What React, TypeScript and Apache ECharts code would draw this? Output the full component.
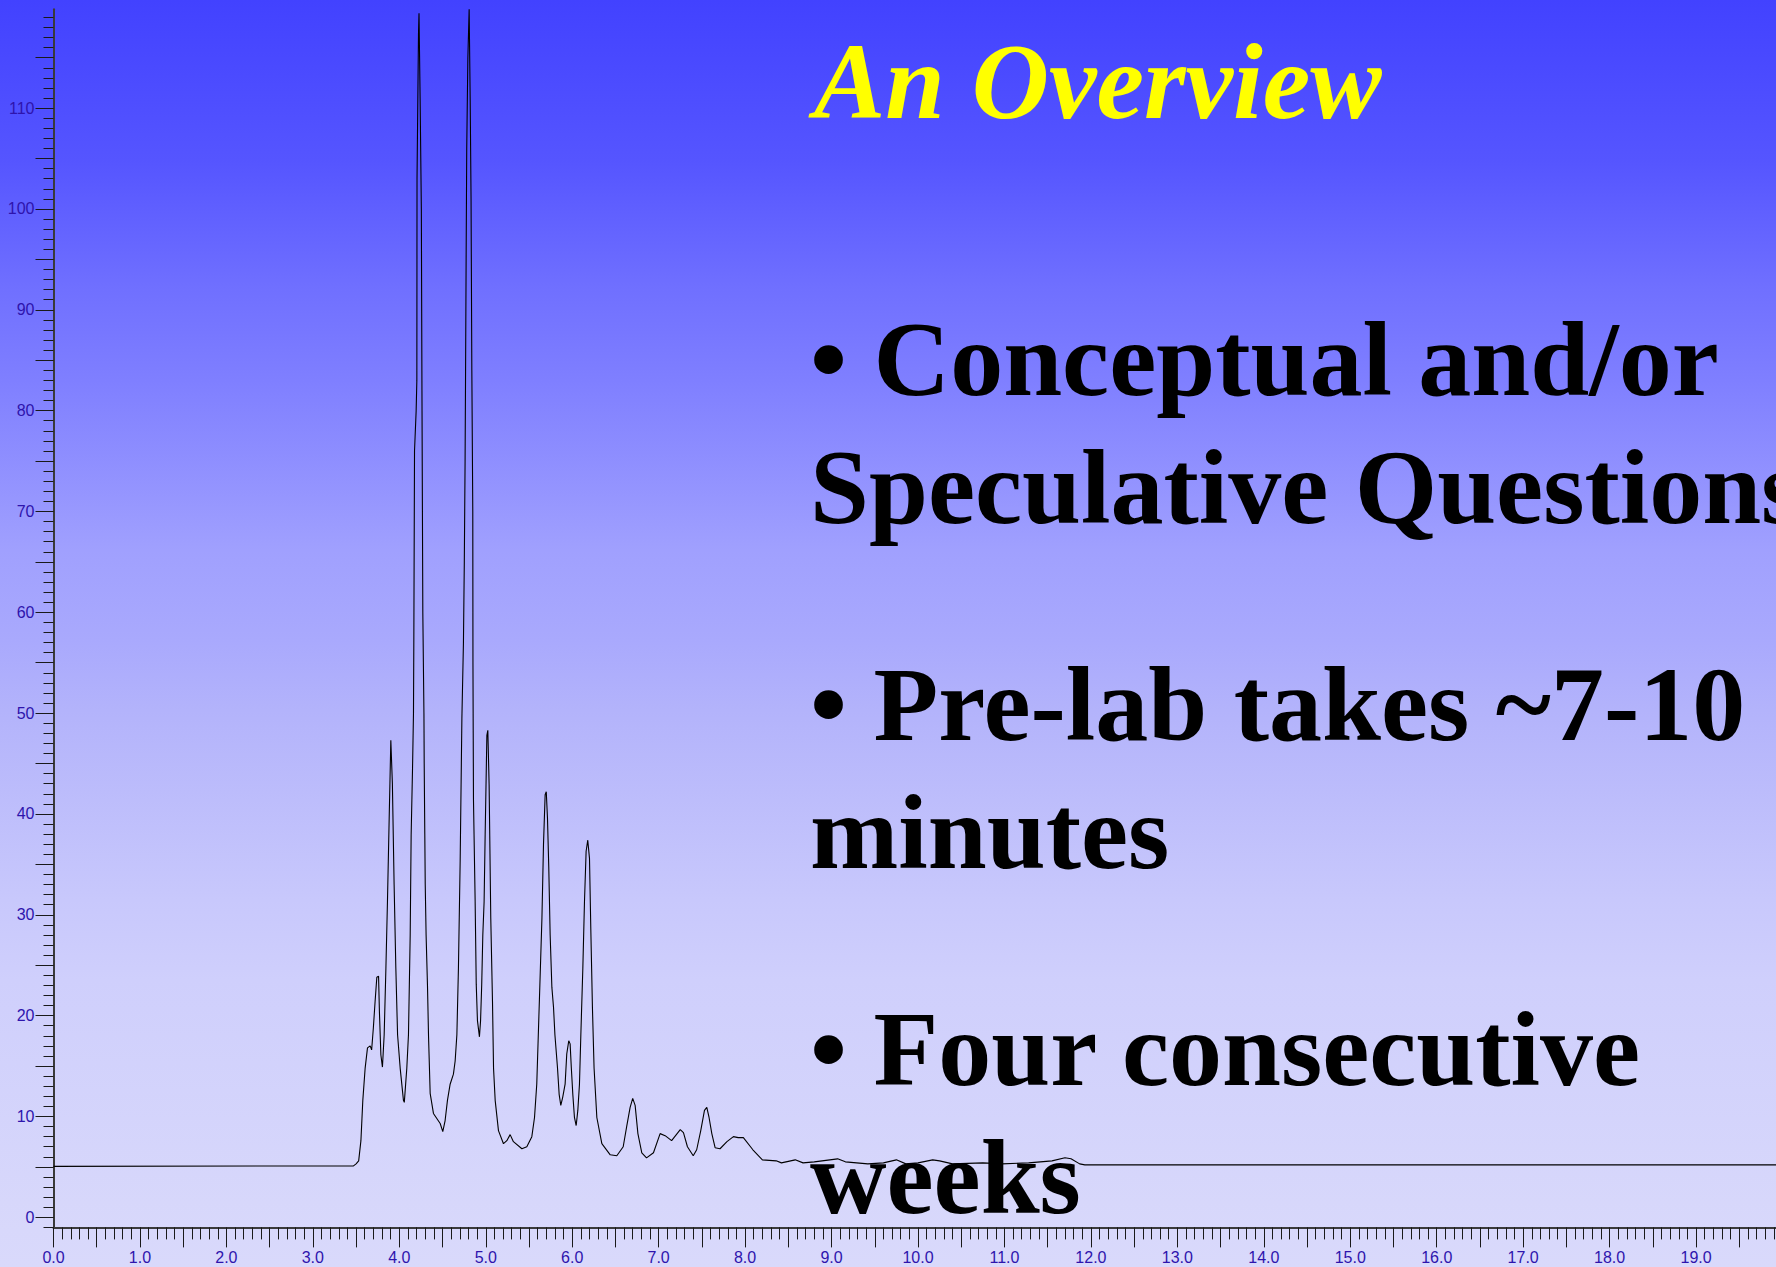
import React, { useEffect, useRef } from 'react';
import * as echarts from 'echarts';

const W = 1776;
const H = 1267;

// Retention time (min)
const TIME = [
  0, 3.47, 3.5, 3.53, 3.556, 3.578, 3.605, 3.632, 3.663, 3.68, 3.7, 3.72, 3.74, 3.76, 3.77, 3.787, 3.805,
  3.825, 3.845, 3.863, 3.883, 3.902, 3.92, 3.94, 3.96, 3.98, 4.01, 4.048, 4.058, 4.087, 4.106, 4.126, 4.137,
  4.153, 4.164, 4.168, 4.176, 4.195, 4.203, 4.205, 4.222, 4.228, 4.241, 4.255, 4.262, 4.272, 4.285, 4.288,
  4.295, 4.3, 4.31, 4.326, 4.338, 4.357, 4.395, 4.434, 4.473, 4.503, 4.53, 4.557, 4.588, 4.626, 4.646,
  4.666, 4.684, 4.704, 4.724, 4.742, 4.752, 4.761, 4.766, 4.773, 4.78, 4.793, 4.808, 4.82, 4.83, 4.839,
  4.85, 4.852, 4.855, 4.858, 4.877, 4.89, 4.904, 4.927, 4.94, 4.953, 4.966, 4.981, 4.993, 5.013, 5.024,
  5.039, 5.058, 5.078, 5.09, 5.109, 5.147, 5.205, 5.244, 5.282, 5.32, 5.418, 5.475, 5.533, 5.564, 5.59,
  5.62, 5.65, 5.668, 5.687, 5.7, 5.714, 5.729, 5.745, 5.765, 5.784, 5.8, 5.83, 5.849, 5.868, 5.89, 5.918,
  5.937, 5.96, 5.976, 5.99, 6.007, 6.026, 6.046, 6.065, 6.084, 6.1, 6.123, 6.142, 6.161, 6.18, 6.2, 6.215,
  6.234, 6.253, 6.285, 6.343, 6.44, 6.516, 6.59, 6.63, 6.67, 6.7, 6.728, 6.76, 6.805, 6.86, 6.94, 7.017,
  7.075, 7.15, 7.25, 7.287, 7.333, 7.4, 7.44, 7.487, 7.53, 7.557, 7.583, 7.615, 7.653, 7.71, 7.79, 7.865,
  7.92, 7.98, 8.09, 8.2, 8.36, 8.42, 8.58, 8.67, 8.8, 8.98, 9.07, 9.16, 9.42, 9.6, 9.75, 9.86, 10.0, 10.17,
  10.25, 10.4, 10.75, 10.97, 11.28, 11.55, 11.7, 11.77, 11.87, 11.93, 20,
];

// Detector signal
const SIGNAL = [
  5.05, 5.1, 5.3, 5.6, 7.6, 11.6, 14.8, 16.8, 17.0, 16.6, 18.8, 21.4, 23.8, 23.9, 20.4, 16.1, 14.9,
  18.1, 24.7, 31.3, 39.6, 47.3, 43, 33, 24.7, 18.1, 14.8, 11.6, 11.4, 14.8, 18.1, 28, 37.9,
  44.5, 50, 57, 76, 80, 83, 103, 117.4, 119.4, 110.8, 100, 82, 60, 50, 45,
  38, 33, 28, 23, 18, 12.3, 10.3, 9.8, 9.3, 8.5, 9.6, 11.6, 13.2, 14.2, 15.5,
  18.1, 24.7, 35.3, 49.5, 57, 65, 75, 83, 95, 106, 115, 119.8, 110.8, 101, 84,
  70, 55, 48, 41.4, 31.5, 23.1, 19.5, 17.9, 19.5, 23, 28, 31.3, 37.9, 47.8, 48.3,
  42.9, 29.7, 21.4, 14.8, 11.6, 8.6, 7.3, 7.6, 8.2, 7.5, 6.8, 7.0, 8.0, 9.9, 13.2,
  21.4, 29.7, 37, 41.9, 42.2, 39.6, 34.7, 28, 22.8, 20.8, 18.1, 14.8, 12.2, 11.1, 11.9, 13.2,
  16.2, 17.5, 17.2, 14.8, 12.2, 9.9, 9.1, 10.6, 13.2, 18.1, 24.7, 31.3, 36.3, 37.4, 35.6, 28.7,
  20.8, 14.8, 9.9, 7.3, 6.2, 6.1, 7.0, 9.0, 10.9, 11.8, 11.1, 8.3, 6.4, 5.9, 6.4, 8.3,
  8.1, 7.6, 8.7, 8.4, 7.0, 6.1, 6.7, 8.6, 10.6, 10.9, 9.9, 8.3, 6.9, 6.8, 7.5, 8.0,
  7.9, 7.9, 6.7, 5.7, 5.6, 5.4, 5.7, 5.4, 5.5, 5.7, 5.8, 5.5, 5.3, 5.4, 5.7, 5.3, 5.4, 5.7,
  5.6, 5.3, 5.4, 5.3, 5.4, 5.6, 5.9, 5.8, 5.3, 5.2, 5.2,
];

// Tick labels
const X_LABELS = [
  '0.0', '1.0', '2.0', '3.0', '4.0', '5.0', '6.0', '7.0', '8.0', '9.0', '10.0',
  '11.0', '12.0', '13.0', '14.0', '15.0', '16.0', '17.0', '18.0', '19.0',
];
const Y_LABELS = ['0', '10', '20', '30', '40', '50', '60', '70', '80', '90', '100', '110'];

const TITLE = 'An Overview';
const BULLET_LINES = [
  '\u2022 Conceptual and/or',
  'Speculative Questions',
  '\u2022 Pre-lab takes ~7-10',
  'minutes',
  '\u2022 Four consecutive',
  'weeks',
];
const BULLET_BASELINES = [395, 523, 740, 868, 1085, 1213];

export default function App() {
  const ref = useRef<HTMLDivElement>(null);

  useEffect(() => {
    if (!ref.current) return;
    const chart = echarts.init(ref.current, null, { renderer: 'svg', width: W, height: H });

    const labelColor = '#2e14ad';
    const axisColor = '#3a3a3a';
    const tickColor = '#1a1a1a';
    const labelFont = '"Liberation Sans", Arial, sans-serif';

    // geometry
    const left = 53.5;
    const right = -6.5;
    const top = 9.3;
    const bottom = 39.6;
    const yMin = -1;
    const yMax = 119.8;
    const pxPerUnit = (H - top - bottom) / (yMax - yMin);

    const grid1Top = top + (yMax - 119) * pxPerUnit;
    const grid2Top = top + (yMax - 115) * pxPerUnit;
    const grid2Bottom = bottom + (0 - yMin) * pxPerUnit;

    const hiddenX = (gridIndex: number) => ({
      type: 'value' as const,
      gridIndex,
      min: 0,
      max: 20,
      show: false,
    });

    const fs = 106;
    const central = 0.3375;
    const serif = '"Liberation Serif", "Times New Roman", serif';

    const graphics: any[] = [
      {
        type: 'text',
        x: 814,
        y: 118 - central * 107,
        z: 0,
        style: {
          text: TITLE,
          fill: '#ffff00',
          font: `italic bold 107px ${serif}`,
          align: 'left',
          verticalAlign: 'middle',
        },
      },
      ...BULLET_LINES.map((t, i) => ({
        type: 'text',
        x: 810,
        y: BULLET_BASELINES[i] - central * fs,
        z: 0,
        style: {
          text: t,
          fill: '#000000',
          font: `bold ${fs}px ${serif}`,
          align: 'left',
          verticalAlign: 'middle',
        },
      })),
    ];

    const gridBase = { outerBoundsMode: 'none', containLabel: false, left, right };

    const option: any = {
      animation: false,
      backgroundColor: 'transparent',
      graphic: graphics,
      grid: [
        { ...gridBase, top, bottom },
        { ...gridBase, top: grid1Top, bottom },
        { ...gridBase, top: grid2Top, bottom: grid2Bottom },
      ],
      xAxis: [
        {
          type: 'value',
          gridIndex: 0,
          min: 0,
          max: 20,
          interval: 0.5,
          axisLine: { show: true, onZero: false, lineStyle: { color: axisColor, width: 2 } },
          axisTick: { show: true, length: 20, lineStyle: { color: tickColor, width: 1 } },
          minorTick: { show: true, splitNumber: 5, length: 12, lineStyle: { color: tickColor, width: 1 } },
          splitLine: { show: false },
          minorSplitLine: { show: false },
          axisLabel: {
            show: true,
            margin: 22,
            color: labelColor,
            fontSize: 16,
            fontFamily: labelFont,
            hideOverlap: false,
            formatter: (v: number) => {
              const s = v.toFixed(1);
              return X_LABELS.includes(s) ? s : '';
            },
          },
        },
        hiddenX(1),
        hiddenX(2),
      ],
      yAxis: [
        {
          type: 'value',
          gridIndex: 0,
          min: yMin,
          max: yMax,
          axisLine: { show: true, onZero: false, lineStyle: { color: axisColor, width: 2 } },
          axisTick: { show: false },
          axisLabel: { show: false },
          splitLine: { show: false },
        },
        {
          type: 'value',
          gridIndex: 1,
          min: -1,
          max: 119,
          interval: 1,
          axisLine: { show: false, onZero: false },
          axisTick: { show: true, length: 10, lineStyle: { color: tickColor, width: 1 } },
          axisLabel: { show: false },
          splitLine: { show: false },
        },
        {
          type: 'value',
          gridIndex: 2,
          min: 0,
          max: 115,
          interval: 5,
          axisLine: { show: false, onZero: false },
          axisTick: { show: true, length: 18, lineStyle: { color: tickColor, width: 1 } },
          splitLine: { show: false },
          axisLabel: {
            show: true,
            margin: 19,
            color: labelColor,
            fontSize: 16,
            fontFamily: labelFont,
            hideOverlap: false,
            formatter: (v: number) => {
              const s = String(Math.round(v));
              return Math.abs(v - Math.round(v)) < 1e-6 && Y_LABELS.includes(s) ? s : '';
            },
          },
        },
      ],
      series: [
        {
          type: 'line',
          xAxisIndex: 0,
          yAxisIndex: 0,
          data: TIME.map((t, i) => [t, SIGNAL[i]]),
          showSymbol: false,
          symbol: 'none',
          smooth: false,
          clip: true,
          z: 5,
          lineStyle: { color: '#000000', width: 1.1 },
        },
      ],
    };

    chart.setOption(option);
    return () => chart.dispose();
  }, []);

  return (
    <div
      ref={ref}
      style={{
        position: 'fixed',
        left: 0,
        top: 0,
        width: W,
        height: H,
        overflow: 'hidden',
        background:
          'linear-gradient(to bottom, #4242ff 0px, #5555ff 160px, #7070ff 290px, #7f7fff 380px, #a0a0fe 550px, #a9a9fd 640px, #b3b3fb 710px, #c8c8fc 900px, #cfcffc 980px, #d8d8fb 1230px, #d9d9fb 1267px)',
      }}
    />
  );
}
